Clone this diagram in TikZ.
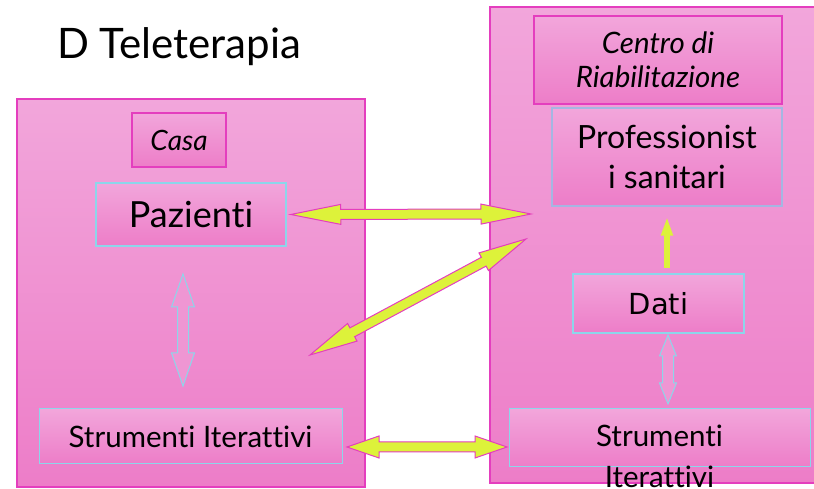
\documentclass[tikz,border=0pt]{standalone}
\usepackage{fontspec}
\setmainfont{Lato}[Ligatures=NoCommon]
\newfontfamily\datifont{DejaVu Sans}
\usetikzlibrary{calc, arrows.meta}
\definecolor{pinkL}{RGB}{242,166,219}
\definecolor{pinkD}{RGB}{237,125,200}
\definecolor{pinkM}{RGB}{239,150,211}
\definecolor{magborder}{RGB}{228,62,190}
\definecolor{cyanborder}{RGB}{140,214,234}
\definecolor{lavborder}{RGB}{165,182,226}
\definecolor{limefill}{RGB}{221,242,58}
\tikzstyle{place} = [rectangle, draw=magborder, line width=1.2pt, top color=pinkL, bottom color=pinkD]
\tikzstyle{tag} = [rectangle, draw=magborder, line width=1.5pt, top color=pinkL, bottom color=pinkD, text centered, inner sep=0pt]
\tikzstyle{actor} = [rectangle, draw=cyanborder, line width=1.5pt, top color=pinkL, bottom color=pinkD, text centered, inner sep=0pt]
\tikzstyle{link} = [draw=magborder, line width=1pt, fill=limefill, line join=miter]
\tikzstyle{hollow} = [draw=cyanborder, line width=1pt, fill=pinkM, line join=miter]
\newcommand{\fatarrow}[6]{%
  \draw [#1] let \p1=#2, \p2=#3, \n1={atan2(\y2-\y1,\x2-\x1)} in
    (\p1) -- ($(\p1)+(\n1:#4)+(\n1+90:#5)$) -- ($(\p1)+(\n1:#4)+(\n1+90:#6)$)
    -- ($(\p2)+(\n1:-#4)+(\n1+90:#6)$) -- ($(\p2)+(\n1:-#4)+(\n1+90:#5)$)
    -- (\p2) -- ($(\p2)+(\n1:-#4)+(\n1-90:#5)$) -- ($(\p2)+(\n1:-#4)+(\n1-90:#6)$)
    -- ($(\p1)+(\n1:#4)+(\n1-90:#6)$) -- ($(\p1)+(\n1:#4)+(\n1-90:#5)$) -- cycle;
}

\begin{document}
\begin{tikzpicture}[x=1pt, y=1pt]
        \useasboundingbox (0,0) rectangle (814,489);
        \clip (0,0) rectangle (814,489);
        \node [anchor=base west, inner sep=0pt, font=\fontsize{42}{50}\selectfont] (title) at (57,430) {D Teleterapia};
        \node [place, minimum width=348pt, minimum height=388pt] (home) at (191,196) {};
        \node [place, minimum width=340pt, minimum height=476pt] (centre) at (660,244) {};
        \node [tag, minimum width=94pt, minimum height=54pt, font=\fontsize{28}{33}\selectfont\itshape] (casa) at (179,349) {Casa};
        \node [actor, minimum width=190pt, minimum height=63pt, font=\fontsize{36}{43}\selectfont] (paz) at (191,274.5) {Pazienti};
        \node [actor, line width=1pt, minimum width=303pt, minimum height=55pt, font=\fontsize{29.5}{35}\selectfont] (strL) at (190.5,52.5) {Strumenti Iterattivi};
        \node [tag, minimum width=248pt, minimum height=88pt, align=center, font=\fontsize{29.5}{34}\selectfont\itshape] (crs) at (658,429) {Centro di\\Riabilitazione};
        \node [actor, draw=lavborder, minimum width=230pt, minimum height=98pt, align=center, font=\fontsize{32}{40}\selectfont] (prof) at (667,332) {Professionist\\i sanitari};
        \node [actor, line width=2.5pt, minimum width=171pt, minimum height=59pt, font=\fontsize{29}{35}\selectfont\datifont] (dati) at (658.5,185.5) {Dati};
        \node [actor, line width=1pt, minimum width=301pt, minimum height=58pt] (strR) at (659.5,51) {};
        \node [anchor=base, align=center, inner sep=0pt, font=\fontsize{29.5}{41}\selectfont] (strRtext) at (659.5,1) {Strumenti\\Iterattivi};
        \coordinate (c1) at (531,275);
        \coordinate (c2) at (310,134);
        \coordinate (c3) at (526,250);
        \coordinate (c4) at (347,42);
        \coordinate (c5) at (507,42);
        \coordinate (c6) at (183,215);
        \coordinate (c7) at (183,103);
        \coordinate (c8) at (668,154);
        \coordinate (c9) at (668,85);
        \fatarrow{link}{([xshift=4pt]paz.east)}{(c1)}{50}{10}{5}
        \fatarrow{link}{(c2)}{(c3)}{48}{10}{5}
        \fatarrow{link}{(c4)}{(c5)}{32}{11}{5}
        \fatarrow{hollow}{(c6)}{(c7)}{33}{11.5}{5.5}
        \fatarrow{hollow}{(c8)}{(c9)}{21}{8.5}{5.5}
        \draw [limefill, line width=6pt, -{Triangle[length=19pt, width=11pt]}] ($(prof.south |- dati.north)+(0,5)$) -- ($(prof.south)+(0,-10)$);
\end{tikzpicture}
\end{document}
